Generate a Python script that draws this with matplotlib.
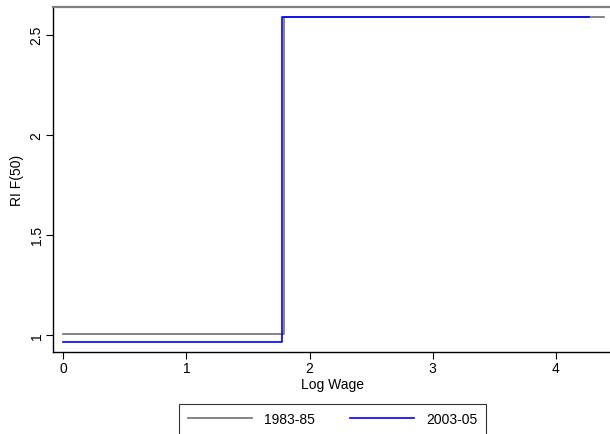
import numpy as np
import matplotlib
matplotlib.use("Agg")
import matplotlib.pyplot as plt

plt.rcParams["font.family"] = ["Liberation Sans", "DejaVu Sans"]

# step functions: RIF of the median over log wage
x_8385 = [0.0, 1.79, 1.79, 4.39]
y_8385 = [1.0035, 1.0035, 2.587, 2.587]
x_0305 = [0.0, 1.777, 1.777, 4.27]
y_0305 = [0.965, 0.965, 2.587, 2.587]

labels = ["1983-85", "2003-05"]
xticks = [0, 1, 2, 3, 4]
yticks = [1, 1.5, 2, 2.5]

fig = plt.figure(figsize=(6.1, 4.35), dpi=100)
ax = fig.add_axes([0.0874, 0.1892, 0.9126 + 0.002, 0.7931])

ax.plot(x_8385, y_8385, color="#707070", lw=1.2, label=labels[0])
ax.plot(x_0305, y_0305, color="#0000ff", lw=1.2, label=labels[1])

ax.set_xlim(-0.081, 4.45)
ax.set_ylim(0.915, 2.64)
ax.set_xticks(xticks)
ax.set_xticklabels([str(t) for t in xticks])
ax.set_yticks(yticks)
ax.set_yticklabels(["1", "1.5", "2", "2.5"], rotation=90, va="center")
ax.tick_params(direction="out", length=5, width=0.8, labelsize=10, pad=2)

ax.spines["right"].set_visible(False)
ax.spines["top"].set_color("#808080")
ax.spines["top"].set_linewidth(1.6)
for s in ["left", "bottom"]:
    ax.spines[s].set_linewidth(1.0)

ax.set_xlabel("Log Wage", fontsize=10, labelpad=1)
ax.set_ylabel("RI F(50)", fontsize=10, labelpad=4)

leg = fig.legend(loc="upper center", bbox_to_anchor=(332.5 / 610, 1 - 405 / 435),
                 ncol=2, fontsize=10, frameon=True, fancybox=False,
                 edgecolor="black", handlelength=4.6, columnspacing=2.5,
                 borderpad=0.6, handletextpad=0.9, borderaxespad=0)
leg.get_frame().set_linewidth(0.8)

fig.savefig("out.png", dpi=100)
